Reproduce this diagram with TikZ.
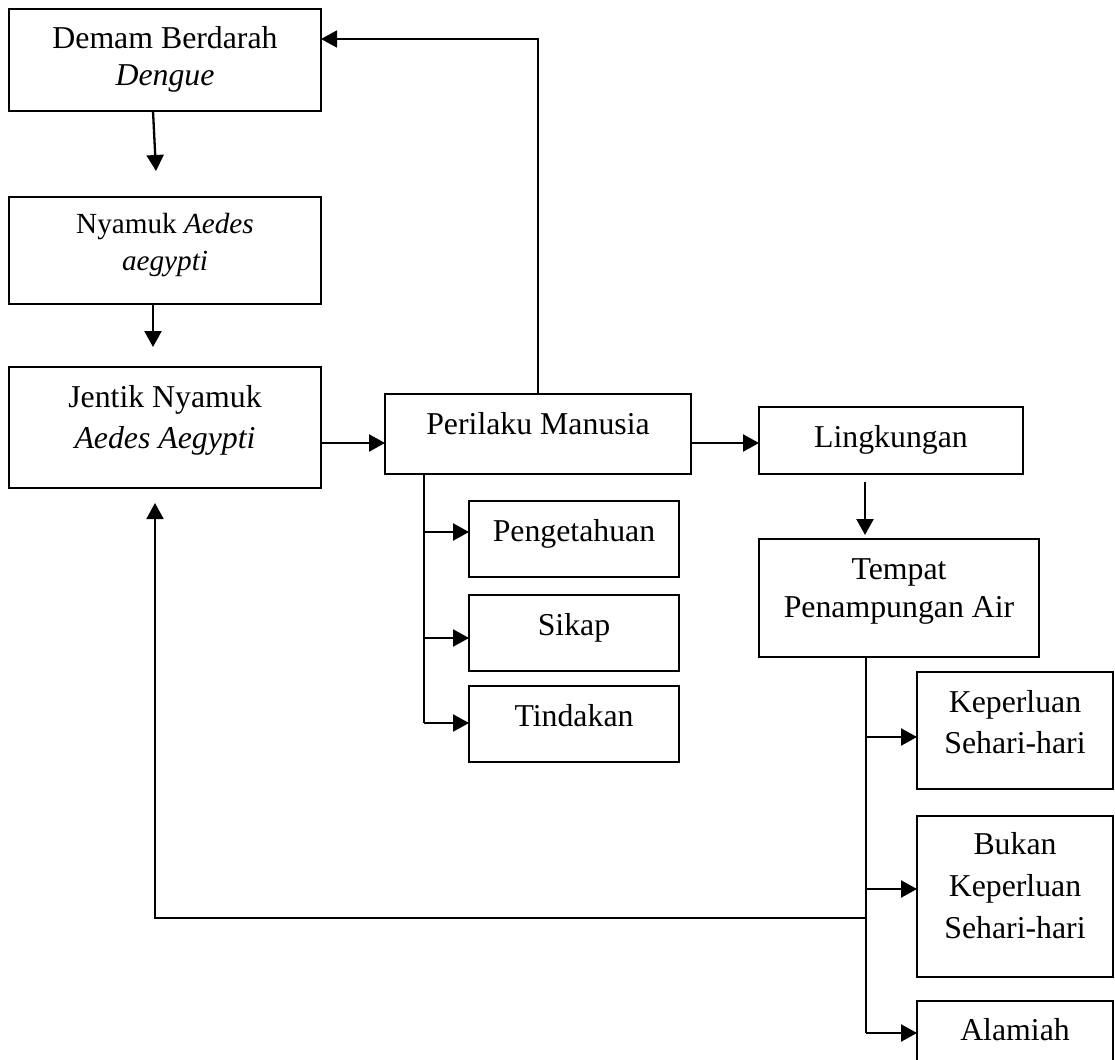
\documentclass[tikz,border=0pt]{standalone}
\usepackage{fontspec}
\setmainfont{Liberation Serif}
\usetikzlibrary{arrows.meta}
\begin{document}
\begin{tikzpicture}[x=1pt,y=-1pt,
  box/.style={draw, line width=1.8pt, rectangle, inner sep=0pt, outer sep=0pt},
  txt/.style={font=\fontsize{31.8}{37}\selectfont, align=center, inner sep=0pt, anchor=base},
  arr/.style={line width=2.3pt, -{Triangle[length=16pt,width=17pt]}},
  link/.style={line width=1.8pt}]
\useasboundingbox (0,0) rectangle (1115,1059);
% boxes
\node[box, minimum width=312pt, minimum height=102pt] (dbd) at (165,60) {};
\node[box, minimum width=312pt, minimum height=107pt] (nyamuk) at (165,250.5) {};
\node[box, minimum width=312pt, minimum height=121pt] (jentik) at (165,427.5) {};
\node[box, minimum width=306pt, minimum height=80pt] (perilaku) at (538,434) {};
\node[box, minimum width=264pt, minimum height=67pt] (lingk) at (891,440.5) {};
\node[box, minimum width=280pt, minimum height=118pt] (tempat) at (899,598) {};
\node[box, minimum width=210pt, minimum height=76pt] (penget) at (574,539) {};
\node[box, minimum width=210pt, minimum height=76pt] (sikap) at (574,633) {};
\node[box, minimum width=210pt, minimum height=76pt] (tindakan) at (574,724) {};
\node[box, minimum width=196pt, minimum height=117pt] (keperluan) at (1015,730.5) {};
\node[box, minimum width=196pt, minimum height=161pt] (bukan) at (1015,896.5) {};
\node[box, minimum width=196pt, minimum height=66pt] (alamiah) at (1015,1034) {};
% texts (anchor=base is the baseline of the last line)
\node[txt] (tdbd) at (165,86) {Demam Berdarah\\\textit{Dengue}};
\node[txt, font=\fontsize{29.2}{37}\selectfont] (tnyamuk) at (165,270) {Nyamuk \textit{Aedes}\\\textit{aegypti}};
\node[txt, font=\fontsize{31.8}{41}\selectfont] (tjentik) at (165,448) {Jentik Nyamuk\\\textit{Aedes Aegypti}};
\node[txt] (tperilaku) at (538,434) {Perilaku Manusia};
\node[txt] (tlingk) at (891,447) {Lingkungan};
\node[txt, font=\fontsize{31.8}{38}\selectfont] (ttempat) at (899,617) {Tempat\\Penampungan Air};
\node[txt] (tpenget) at (574,541) {Pengetahuan};
\node[txt] (tsikap) at (574,635) {Sikap};
\node[txt] (ttindakan) at (574,726) {Tindakan};
\node[txt, font=\fontsize{31.8}{41}\selectfont] (tkeperluan) at (1015,753) {Keperluan\\Sehari-hari};
\node[txt, font=\fontsize{31.8}{42}\selectfont] (tbukan) at (1015,938) {Bukan\\Keperluan\\Sehari-hari};
\node[txt] (talamiah) at (1015,1040) {Alamiah};
% helper coordinates
\coordinate (c1) at (156,171);
\coordinate (c2) at (153,347);
\coordinate (c3) at (0,443);
\coordinate (c4) at (0,39);
\coordinate (c5s) at (865,482);
\coordinate (c5e) at (865,535);
\coordinate (pk1) at (424,532);
\coordinate (pk2) at (424,638);
\coordinate (pk3) at (424,723);
\coordinate (tk1) at (866,737);
\coordinate (tk2) at (866,889);
\coordinate (tk3) at (866,1033);
\coordinate (tl) at (866,918);
\coordinate (c6) at (155,503);
% connectors
\draw[arr] ([xshift=-12pt]dbd.south) -- (c1);
\draw[arr] ([xshift=-12pt]nyamuk.south) -- (c2);
\draw[arr] (jentik.east |- c3) -- (perilaku.west |- c3);
\draw[arr] (perilaku.east |- c3) -- (lingk.west |- c3);
\draw[arr, line width=1.8pt] (perilaku.north) |- (dbd.east |- c4);
\draw[arr] (c5s) -- (c5e);
\draw[link] (perilaku.south -| pk1) -- (pk3);
\draw[arr] (pk1) -- (penget.west |- pk1);
\draw[arr] (pk2) -- (sikap.west |- pk2);
\draw[arr] (pk3) -- (tindakan.west |- pk3);
\draw[link] (tempat.south -| tk1) -- (tk3);
\draw[arr] (tk1) -- (keperluan.west |- tk1);
\draw[arr] (tk2) -- (bukan.west |- tk2);
\draw[arr] (tk3) -- (alamiah.west |- tk3);
\draw[arr, line width=1.8pt] (tl) -| (c6);
\end{tikzpicture}
\end{document}
